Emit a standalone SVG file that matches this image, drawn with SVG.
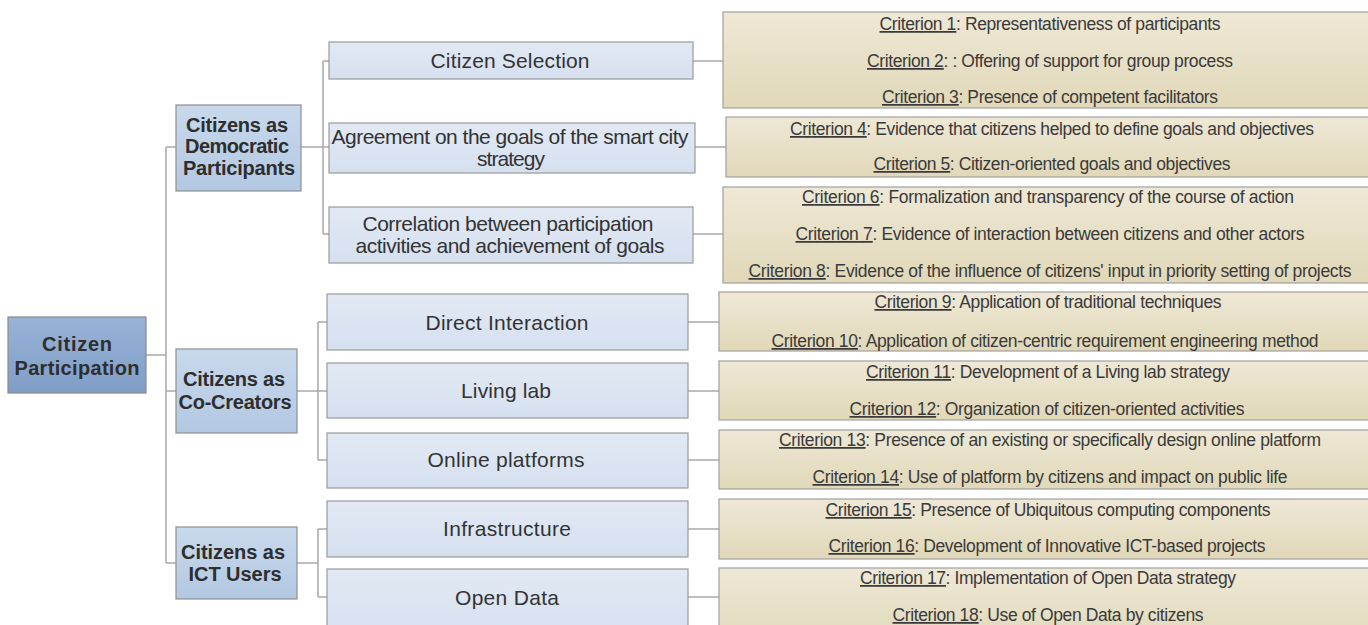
<svg xmlns="http://www.w3.org/2000/svg" width="1368" height="625" viewBox="0 0 1368 625">
<defs>
<linearGradient id="gRoot" x1="0" y1="0" x2="0" y2="1"><stop offset="0" stop-color="#98b3d8"/><stop offset="1" stop-color="#7f9dc6"/></linearGradient>
<linearGradient id="gL1" x1="0" y1="0" x2="0" y2="1"><stop offset="0" stop-color="#c9d9ec"/><stop offset="1" stop-color="#b2c8e2"/></linearGradient>
<linearGradient id="gL2" x1="0" y1="0" x2="0" y2="1"><stop offset="0" stop-color="#e2e9f4"/><stop offset="1" stop-color="#d5e0ef"/></linearGradient>
<linearGradient id="gC" x1="0" y1="0" x2="0" y2="1"><stop offset="0" stop-color="#eee8d6"/><stop offset="1" stop-color="#e1d8b8"/></linearGradient>
</defs>
<style>
.root{fill:url(#gRoot);stroke:#8a8a8a;stroke-width:1.2}
.l1{fill:url(#gL1);stroke:#8f8f8f;stroke-width:1.2}
.l2{fill:url(#gL2);stroke:#9a9a9a;stroke-width:1.2}
.cr{fill:url(#gC);stroke:#a0a0a0;stroke-width:1.2}
.conn line{stroke:#a8a8a8;stroke-width:1.5}
.tb{font-family:"Liberation Sans",Arial,sans-serif;font-weight:bold;font-size:20px;fill:#2e2e2e;text-anchor:middle}
.tm{font-family:"Liberation Sans",Arial,sans-serif;font-size:21px;fill:#333;text-anchor:middle}
.tc{font-family:"Liberation Sans",Arial,sans-serif;font-size:17.5px;fill:#3a3a3a;text-anchor:middle}
.u{text-decoration:underline}
</style>
<rect width="1368" height="625" fill="#ffffff"/>
<g class="conn" id="connectors">
<line x1="146" y1="355" x2="166" y2="355"/>
<line x1="166" y1="147" x2="166" y2="563"/>
<line x1="166" y1="147" x2="176" y2="147"/>
<line x1="166" y1="391" x2="176" y2="391"/>
<line x1="166" y1="563" x2="176" y2="563"/>
<line x1="301" y1="147" x2="323" y2="147"/>
<line x1="323" y1="61" x2="323" y2="234"/>
<line x1="323" y1="61" x2="329" y2="61"/>
<line x1="323" y1="147" x2="329" y2="147"/>
<line x1="323" y1="234" x2="329" y2="234"/>
<line x1="297" y1="391" x2="318" y2="391"/>
<line x1="318" y1="322" x2="318" y2="460"/>
<line x1="318" y1="322" x2="327" y2="322"/>
<line x1="318" y1="391" x2="327" y2="391"/>
<line x1="318" y1="460" x2="327" y2="460"/>
<line x1="297" y1="563" x2="318" y2="563"/>
<line x1="318" y1="529" x2="318" y2="597"/>
<line x1="318" y1="529" x2="327" y2="529"/>
<line x1="318" y1="597" x2="327" y2="597"/>
<line x1="693" y1="61" x2="723" y2="61"/>
<line x1="695" y1="147" x2="726" y2="147"/>
<line x1="693" y1="234" x2="723" y2="234"/>
<line x1="688" y1="322" x2="719" y2="322"/>
<line x1="688" y1="391" x2="719" y2="391"/>
<line x1="688" y1="460" x2="719" y2="460"/>
<line x1="688" y1="529" x2="719" y2="529"/>
<line x1="688" y1="597" x2="719" y2="597"/>
</g>
<g id="citizen-participation">
<rect class="root" x="8" y="317" width="138" height="76"/>
<text class="tb" x="77" y="351" textLength="70">Citizen</text>
<text class="tb" x="77" y="375" textLength="125">Participation</text>
</g>
<g id="democratic">
<rect class="l1" x="176" y="105" width="125" height="86"/>
<text class="tb" x="237" y="132" textLength="102">Citizens as</text>
<text class="tb" x="237" y="153" textLength="104">Democratic</text>
<text class="tb" x="239" y="175" textLength="112">Participants</text>
</g>
<g id="cocreators">
<rect class="l1" x="176" y="349" width="121" height="84"/>
<text class="tb" x="234" y="386" textLength="102">Citizens as</text>
<text class="tb" x="235" y="409" textLength="113">Co-Creators</text>
</g>
<g id="ictusers">
<rect class="l1" x="176" y="527" width="121" height="72"/>
<text class="tb" x="233" y="559" textLength="104">Citizens as</text>
<text class="tb" x="235" y="581" textLength="93">ICT Users</text>
</g>
<g id="citizen-selection">
<rect class="l2" x="329" y="42" width="364" height="37"/>
<text class="tm" x="510" y="68" textLength="159">Citizen Selection</text>
</g>
<g id="agreement">
<rect class="l2" x="329" y="123" width="366" height="50"/>
<text class="tm" x="510" y="144" textLength="357">Agreement on the goals of the smart city</text>
<text class="tm" x="511" y="166" textLength="68">strategy</text>
</g>
<g id="correlation">
<rect class="l2" x="329" y="207" width="364" height="56"/>
<text class="tm" x="508" y="231" textLength="291">Correlation between participation</text>
<text class="tm" x="510" y="253" textLength="309">activities and achievement of goals</text>
</g>
<g id="direct-interaction">
<rect class="l2" x="327" y="294" width="361" height="56"/>
<text class="tm" x="507" y="330" textLength="163">Direct Interaction</text>
</g>
<g id="living-lab">
<rect class="l2" x="327" y="363" width="361" height="55"/>
<text class="tm" x="506" y="398" textLength="90">Living lab</text>
</g>
<g id="online-platforms">
<rect class="l2" x="327" y="433" width="361" height="55"/>
<text class="tm" x="506" y="467" textLength="157">Online platforms</text>
</g>
<g id="infrastructure">
<rect class="l2" x="327" y="501" width="361" height="56"/>
<text class="tm" x="507" y="536" textLength="128">Infrastructure</text>
</g>
<g id="open-data">
<rect class="l2" x="327" y="569" width="361" height="70"/>
<text class="tm" x="507" y="605" textLength="104">Open Data</text>
</g>
<g id="criteria-1-3">
<rect class="cr" x="723" y="12" width="660" height="96"/>
<text class="tc" x="1050" y="30" textLength="341"><tspan class="u">Criterion 1</tspan>: Representativeness of participants</text>
<text class="tc" x="1050" y="67" textLength="366"><tspan class="u">Criterion 2</tspan>: : Offering of support for group process</text>
<text class="tc" x="1050" y="103" textLength="336"><tspan class="u">Criterion 3</tspan>: Presence of competent facilitators</text>
</g>
<g id="criteria-4-5">
<rect class="cr" x="726" y="117" width="660" height="60"/>
<text class="tc" x="1052" y="135" textLength="524"><tspan class="u">Criterion 4</tspan>: Evidence that citizens helped to define goals and objectives</text>
<text class="tc" x="1052" y="170" textLength="357"><tspan class="u">Criterion 5</tspan>: Citizen-oriented goals and objectives</text>
</g>
<g id="criteria-6-8">
<rect class="cr" x="723" y="187" width="660" height="96"/>
<text class="tc" x="1048" y="203" textLength="492"><tspan class="u">Criterion 6</tspan>: Formalization and transparency of the course of action</text>
<text class="tc" x="1050" y="240" textLength="509"><tspan class="u">Criterion 7</tspan>: Evidence of interaction between citizens and other actors</text>
<text class="tc" x="1050" y="277" textLength="603"><tspan class="u">Criterion 8</tspan>: Evidence of the influence of citizens' input in priority setting of projects</text>
</g>
<g id="criteria-9-10">
<rect class="cr" x="719" y="292" width="660" height="59"/>
<text class="tc" x="1048" y="308" textLength="347"><tspan class="u">Criterion 9</tspan>: Application of traditional techniques</text>
<text class="tc" x="1045" y="347" textLength="547"><tspan class="u">Criterion 10</tspan>: Application of citizen-centric requirement engineering method</text>
</g>
<g id="criteria-11-12">
<rect class="cr" x="719" y="361" width="660" height="59"/>
<text class="tc" x="1048" y="378" textLength="364"><tspan class="u">Criterion 11</tspan>: Development of a Living lab strategy</text>
<text class="tc" x="1047" y="415" textLength="395"><tspan class="u">Criterion 12</tspan>: Organization of citizen-oriented activities</text>
</g>
<g id="criteria-13-14">
<rect class="cr" x="719" y="430" width="660" height="59"/>
<text class="tc" x="1050" y="446" textLength="542"><tspan class="u">Criterion 13</tspan>: Presence of an existing or specifically design online platform</text>
<text class="tc" x="1050" y="483" textLength="475"><tspan class="u">Criterion 14</tspan>: Use of platform by citizens and impact on public life</text>
</g>
<g id="criteria-15-16">
<rect class="cr" x="719" y="499" width="660" height="60"/>
<text class="tc" x="1048" y="516" textLength="445"><tspan class="u">Criterion 15</tspan>: Presence of Ubiquitous computing components</text>
<text class="tc" x="1047" y="552" textLength="437"><tspan class="u">Criterion 16</tspan>: Development of Innovative ICT-based projects</text>
</g>
<g id="criteria-17-18">
<rect class="cr" x="719" y="568" width="660" height="80"/>
<text class="tc" x="1048" y="584" textLength="376"><tspan class="u">Criterion 17</tspan>: Implementation of Open Data strategy</text>
<text class="tc" x="1048" y="621" textLength="311"><tspan class="u">Criterion 18</tspan>: Use of Open Data by citizens</text>
</g>
</svg>
